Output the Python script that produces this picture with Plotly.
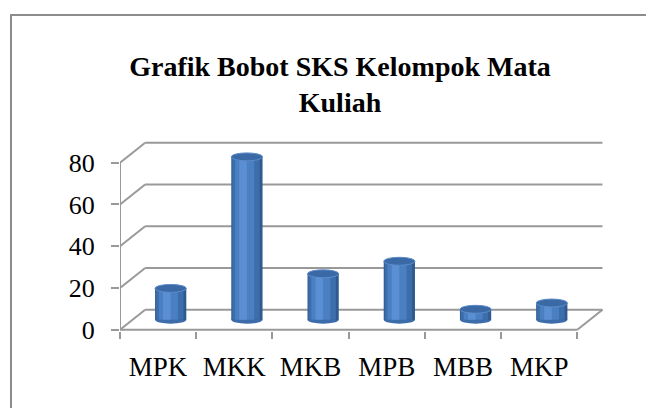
import plotly.graph_objects as go

# ---- data ----
categories = ["MPK", "MKK", "MKB", "MPB", "MBB", "MKP"]
values = [15, 78, 22, 28, 5, 8]
y_ticks = [0, 20, 40, 60, 80]
title_text = "Grafik Bobot SKS Kelompok Mata<br>Kuliah"

# ---- pseudo-3D geometry (in axis units) ----
DX = 0.33      # depth offset along x (categories)
DY = 9.6       # depth offset along y (value units)
BAR_C = DX / 2  # bars sit at mid depth
BAR_BASE = DY / 2
BAR_W = 0.41
ELL = 1.9      # half height of cylinder ellipses

W, H = 654, 408
OFF = 8  # page body margin in the browser
ML, MR, MT, MB = 120 - OFF, 50 + OFF, 141 - OFF, 77 + OFF

FONT = "Liberation Serif, Times New Roman, serif"
GRID = "#999999"

fig = go.Figure()

# cylinder body made from layered bars (shading)
layers = [
    (BAR_W, 0.0, "#2E5A90"),
    (0.36, -0.012, "#3D6EAC"),
    (0.25, -0.03, "#4A7FC1"),
    (0.10, -0.05, "#5A90D3"),
]
for w, shift, col in layers:
    fig.add_trace(go.Bar(
        x=categories, y=values, base=[BAR_BASE] * len(values),
        width=w, offset=BAR_C + shift - w / 2,
        marker=dict(color=col, line=dict(width=0)),
        hoverinfo="skip", showlegend=False,
    ))

shapes = []
# back wall gridlines and depth connectors
for v in y_ticks:
    shapes.append(dict(type="line", xref="x", yref="y", layer="below",
                       x0=-0.5 + DX, x1=len(categories) - 0.5 + DX,
                       y0=v + DY, y1=v + DY,
                       line=dict(color=GRID, width=2)))
    shapes.append(dict(type="line", xref="x", yref="y", layer="below",
                       x0=-0.5, x1=-0.5 + DX, y0=v, y1=v + DY,
                       line=dict(color=GRID, width=2)))
# floor front edge and right depth edge
shapes.append(dict(type="line", xref="x", yref="y", layer="below",
                   x0=-0.5, x1=len(categories) - 0.5, y0=0, y1=0,
                   line=dict(color=GRID, width=2)))
shapes.append(dict(type="line", xref="x", yref="y", layer="below",
                   x0=len(categories) - 0.5, x1=len(categories) - 0.5 + DX,
                   y0=0, y1=DY, line=dict(color=GRID, width=2)))
# front vertical axis
shapes.append(dict(type="line", xref="x", yref="y", layer="below",
                   x0=-0.5, x1=-0.5, y0=0, y1=max(y_ticks),
                   line=dict(color=GRID, width=2)))
# cylinder bottoms and tops
for i, v in enumerate(values):
    xc = i + BAR_C
    shapes.append(dict(type="circle", xref="x", yref="y", layer="below",
                       x0=xc - BAR_W / 2, x1=xc + BAR_W / 2,
                       y0=BAR_BASE - ELL, y1=BAR_BASE + ELL,
                       fillcolor="#3C6CA9", line=dict(width=0)))
    shapes.append(dict(type="circle", xref="x", yref="y", layer="above",
                       x0=xc - BAR_W / 2, x1=xc + BAR_W / 2,
                       y0=BAR_BASE + v - ELL, y1=BAR_BASE + v + ELL,
                       fillcolor="#3A69A6", line=dict(color="#5B8BC9", width=1)))

# outer chart border (page pixels -> paper)
pw, ph = W - ML - MR, H - MT - MB
def px_x(px):
    return (px - OFF - ML) / pw
def px_y(py):
    return (H - MB - (py - OFF)) / ph
shapes.append(dict(type="rect", xref="paper", yref="paper", layer="above",
                   x0=px_x(11), x1=px_x(W + 40), y0=px_y(15), y1=px_y(H + 40),
                   line=dict(color="#8C8C8C", width=2), fillcolor="rgba(0,0,0,0)"))

fig.update_layout(
    width=W, height=H,
    margin=dict(l=ML, r=MR, t=MT, b=MB),
    paper_bgcolor="white", plot_bgcolor="white",
    barmode="overlay",
    shapes=shapes,
    title=dict(text=title_text, x=(340 - OFF) / W, xanchor="center", xref="container",
               y=1 - 68 / H, yanchor="top", yref="container",
               font=dict(family=FONT, size=28, color="black", weight="bold")),
    xaxis=dict(type="category", categoryorder="array", categoryarray=categories,
               range=[-0.5, len(categories) - 0.5 + DX + 0.02],
               tickson="boundaries", ticks="outside", ticklen=7, tickwidth=2,
               tickcolor=GRID, showline=False, showgrid=False, zeroline=False,
               ticklabelstandoff=17, automargin=False,
               tickfont=dict(family=FONT, size=27, color="black")),
    yaxis=dict(range=[-0.6, max(y_ticks) + DY + 0.8],
               tickvals=y_ticks, ticks="outside", ticklen=8, tickwidth=2,
               tickcolor=GRID, showline=False, showgrid=False, zeroline=False,
               ticklabelstandoff=11, automargin=False,
               tickfont=dict(family=FONT, size=26, color="black")),
)

fig.write_html("out.html")
